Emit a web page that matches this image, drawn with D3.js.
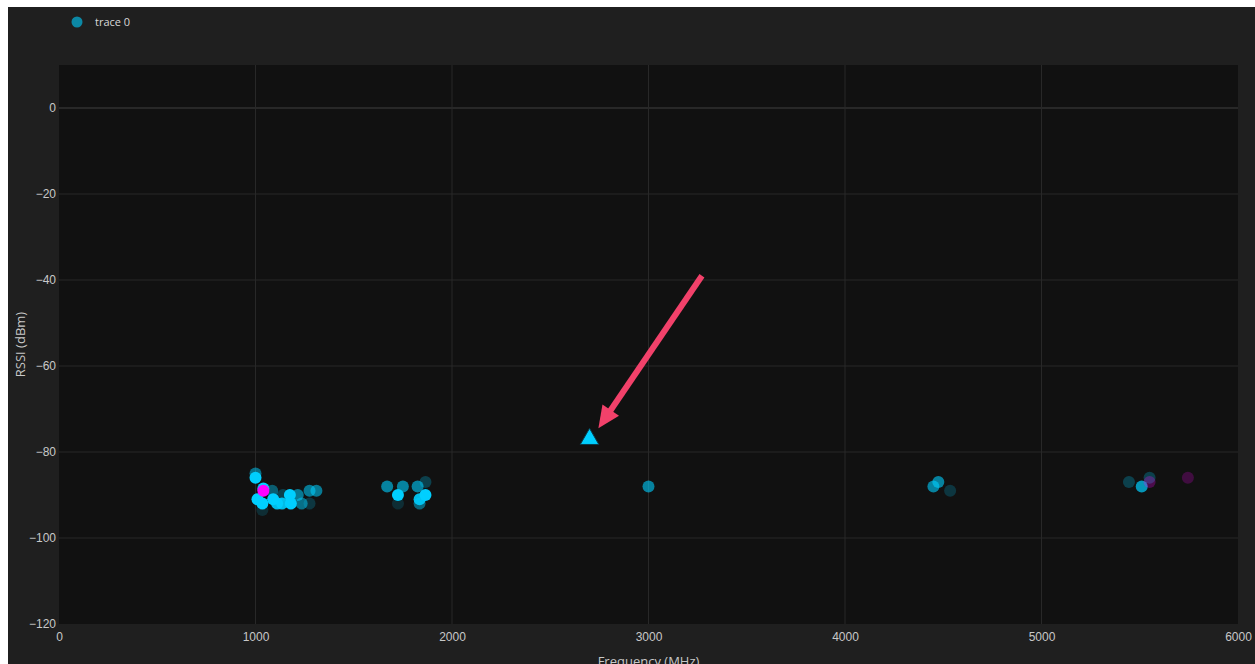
<!DOCTYPE html>
<html>
<head>
<meta charset="utf-8">
<script src="https://cdn.jsdelivr.net/npm/d3@7"></script>
<style>
  html, body { margin: 0; padding: 0; background: #ffffff; }
  svg { display: block; font-family: "Open Sans", "Noto Sans", sans-serif; }
</style>
</head>
<body>
<svg id="chart" width="1255" height="664"></svg>
<script>
// Scanned signals: frequency (MHz), RSSI (dBm), marker opacity, marker hue
const freqs = [1000, 1000, 1040, 1085, 1010, 1035, 1090, 1110, 1135, 1140, 1175, 1180, 1215, 1235, 1275, 1310, 1275, 1035, 1040,
               1670, 1750, 1825, 1865, 1725, 1865, 1835, 1725, 1835,
               3000,
               4450, 4475, 4535,
               5445, 5510, 5550, 5550, 5745];
const rssi = [-85, -86, -88.5, -89, -91, -92, -91, -92, -92, -90, -90, -92, -90, -92, -89, -89, -92, -93.5, -89,
              -88, -88, -88, -87, -90, -90, -91, -92, -92,
              -88,
              -88, -87, -89,
              -87, -88, -86, -87, -86];
const alphas = [0.5, 1, 1, 0.4, 1, 1, 1, 0.9, 0.9, 0.25, 1, 1, 0.55, 0.5, 0.55, 0.55, 0.2, 0.15, 1,
                0.6, 0.6, 0.6, 0.25, 1, 1, 0.9, 0.15, 0.45,
                0.6,
                0.6, 0.6, 0.2,
                0.25, 0.7, 0.25, 0.25, 0.2];
const hues = ["c","c","c","c","c","c","c","c","c","c","c","c","c","c","c","c","c","c","m",
              "c","c","c","c","c","c","c","c","c",
              "c",
              "c","c","c",
              "c","c","c","m","m"];

// Highlighted detection
const peakFreq = [2700];
const peakRssi = [-77];

// Annotation arrow (data coordinates: tail -> tip)
const arrowFreq = [3272, 2745];
const arrowRssi = [-39, -74.5];

const xTicks = [0, 1000, 2000, 3000, 4000, 5000, 6000];
const yTicks = [0, -20, -40, -60, -80, -100, -120];
const xDomain = [0, 6000];
const yDomain = [-120, 10];

const colorOf = { c: "#00cfff", m: "#ff00ff" };

const svg = d3.select("#chart");
const W = 1255, H = 664;
const plot = { left: 59, top: 65, right: 1238, bottom: 624 };

// paper
svg.append("rect").attr("x", 8).attr("y", 7).attr("width", W - 8).attr("height", H - 7).attr("fill", "#1f1f1f");
// plot background
svg.append("rect").attr("x", plot.left).attr("y", plot.top)
  .attr("width", plot.right - plot.left).attr("height", plot.bottom - plot.top).attr("fill", "#111111");

const x = d3.scaleLinear().domain(xDomain).range([plot.left, plot.right]);
const y = d3.scaleLinear().domain(yDomain).range([plot.bottom, plot.top]);

// grid
const grid = svg.append("g");
grid.selectAll("line.vx").data(xTicks.filter(t => t > 0 && t < 6000)).enter().append("line")
  .attr("x1", d => x(d)).attr("x2", d => x(d)).attr("y1", plot.top).attr("y2", plot.bottom)
  .attr("stroke", "#282828").attr("stroke-width", 1);
grid.selectAll("line.hy").data(yTicks.filter(t => t > -120)).enter().append("line")
  .attr("y1", d => y(d)).attr("y2", d => y(d)).attr("x1", plot.left).attr("x2", plot.right)
  .attr("stroke", "#282828").attr("stroke-width", d => d === 0 ? 2 : 1);

// axes
const xAxis = d3.axisBottom(x).tickValues(xTicks).tickSize(0).tickPadding(8).tickFormat(d3.format("d"));
const gx = svg.append("g").attr("transform", `translate(0,${plot.bottom})`).call(xAxis);
gx.select(".domain").remove();
gx.selectAll("text").attr("fill", "#c8c8c8").style("font-size", "12px");

const yAxis = d3.axisLeft(y).tickValues(yTicks).tickSize(0).tickPadding(3)
  .tickFormat(d => d < 0 ? "\u2212" + Math.abs(d) : String(d));
const gy = svg.append("g").attr("transform", `translate(${plot.left},0)`).call(yAxis);
gy.select(".domain").remove();
gy.selectAll("text").attr("fill", "#c8c8c8").style("font-size", "12px");

// axis titles
svg.append("text").attr("transform", `translate(25,${(plot.top + plot.bottom) / 2}) rotate(-90)`)
  .attr("text-anchor", "middle").attr("fill", "#c8c8c8").style("font-size", "13px").text("RSSI (dBm)");
svg.append("text").attr("x", (plot.left + plot.right) / 2).attr("y", 666)
  .attr("text-anchor", "middle").attr("fill", "#c8c8c8").style("font-size", "13px").text("Frequency (MHz)");

// points
const pts = freqs.map((f, i) => ({ f, r: rssi[i], a: alphas[i], h: hues[i] }));
svg.append("g").selectAll("circle").data(pts).enter().append("circle")
  .attr("cx", d => x(d.f)).attr("cy", d => y(d.r)).attr("r", 6)
  .attr("fill", d => colorOf[d.h]).attr("fill-opacity", d => d.a);

// highlighted triangle
const tri = d3.symbol().type(d3.symbolTriangle).size(150);
svg.append("g").selectAll("path").data(peakFreq.map((f, i) => ({ f, r: peakRssi[i] }))).enter().append("path")
  .attr("d", tri).attr("transform", d => `translate(${x(d.f)},${y(d.r)})`)
  .attr("fill", "#00cfff").attr("stroke", "#0a3a48").attr("stroke-width", 1);

// annotation arrow
const x0 = x(arrowFreq[0]), y0 = y(arrowRssi[0]);
const x1 = x(arrowFreq[1]), y1 = y(arrowRssi[1]);
const ang = Math.atan2(y1 - y0, x1 - x0);
const headLen = 22, headHalf = 10;
const bx = x1 - headLen * Math.cos(ang), by = y1 - headLen * Math.sin(ang);
const arrowColor = "#f2416a";
svg.append("line").attr("x1", x0).attr("y1", y0).attr("x2", bx + 2 * Math.cos(ang)).attr("y2", by + 2 * Math.sin(ang))
  .attr("stroke", arrowColor).attr("stroke-width", 6);
const px = -Math.sin(ang), py = Math.cos(ang);
svg.append("path")
  .attr("d", `M${x1},${y1}L${bx + headHalf * px},${by + headHalf * py}L${bx - headHalf * px},${by - headHalf * py}Z`)
  .attr("fill", arrowColor);

// legend
const lg = svg.append("g");
lg.append("circle").attr("cx", 77).attr("cy", 22).attr("r", 5.5).attr("fill", "#00cfff").attr("fill-opacity", 0.6);
lg.append("text").attr("x", 95).attr("y", 26).attr("fill", "#d8d8d8").style("font-size", "11px").text("trace 0");
</script>
</body>
</html>
